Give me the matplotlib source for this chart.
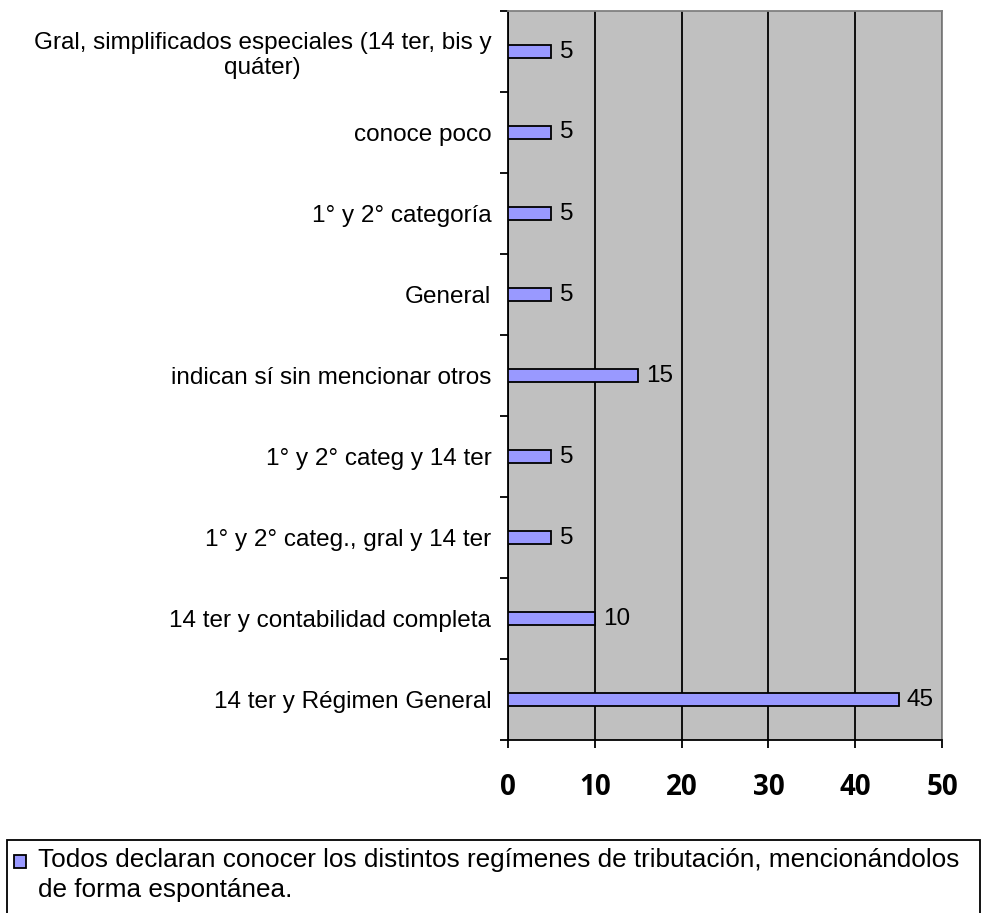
import matplotlib.pyplot as plt
import numpy as np
from matplotlib.patches import Rectangle

# Data (bottom to top)
categories = [
    "14 ter y Régimen General",
    "14 ter y contabilidad completa",
    "1° y 2° categ., gral y 14 ter",
    "1° y 2° categ y 14 ter",
    "indican sí sin mencionar otros",
    "General",
    "1° y 2° categoría",
    "conoce poco",
    "Gral, simplificados especiales (14 ter, bis y\nquáter)",
]
values = [45, 10, 5, 5, 15, 5, 5, 5, 5]
x_ticks = [0, 10, 20, 30, 40, 50]
legend_label = ("Todos declaran conocer los distintos regímenes de tributación, mencionándolos\n"
                "de forma espontánea.")

bar_color = "#9999FF"
W, H = 985, 913

fig = plt.figure(figsize=(9.85, 9.13), dpi=100)
ax = fig.add_axes([508 / W, 1 - 740 / H, (942 - 508) / W, (740 - 11) / H])
ax.set_facecolor("#C0C0C0")

y = np.arange(len(categories))
ax.barh(y, values, height=0.17, color=bar_color, edgecolor="black", linewidth=1.3, zorder=3)

for yi, v in zip(y, values):
    ax.annotate(str(v), (v, yi), xytext=(6, 0), textcoords="offset points",
                va="center", ha="left", fontsize=17.5, family="Liberation Sans")

ax.set_xlim(0, 50)
ax.set_ylim(-0.5, len(categories) - 0.5)
ax.set_xticks(x_ticks)
ax.set_xticklabels([str(t) for t in x_ticks], fontsize=20, fontweight="bold", family="Open Sans")
ax.tick_params(axis="x", length=6, width=1.3, pad=18)

ax.set_yticks(y)
ax.set_yticklabels(categories, fontsize=17.5, family="Liberation Sans")
for lab in ax.get_yticklabels():
    lab.set_multialignment("center")
ax.tick_params(axis="y", which="major", length=0, pad=12)
ax.set_yticks(np.arange(-0.5, len(categories)), minor=True)
ax.tick_params(axis="y", which="minor", length=6, width=1.3)

ax.grid(axis="x", color="black", linewidth=1.3, zorder=1)
ax.set_axisbelow(True)

ax.spines["left"].set_linewidth(1.3)
ax.spines["bottom"].set_linewidth(1.3)
for side in ["top", "right"]:
    ax.spines[side].set_color("#808080")
    ax.spines[side].set_linewidth(1.3)

# legend box (runs off the bottom edge, marker next to the first line)
fig.add_artist(Rectangle((7 / W, -0.02), (980 - 7) / W, 0.02 + 1 - 840 / H,
                         transform=fig.transFigure, fill=False, edgecolor="black", linewidth=1.3))
fig.add_artist(Rectangle((14 / W, 1 - 868 / H), 12 / W, 13 / H,
                         transform=fig.transFigure, facecolor=bar_color, edgecolor="black", linewidth=1.3))
fig.text(38 / W, 1 - 848 / H, legend_label, ha="left", va="top",
         fontsize=18.8, family="Liberation Sans", linespacing=1.3)

fig.savefig("out.png", dpi=100)
